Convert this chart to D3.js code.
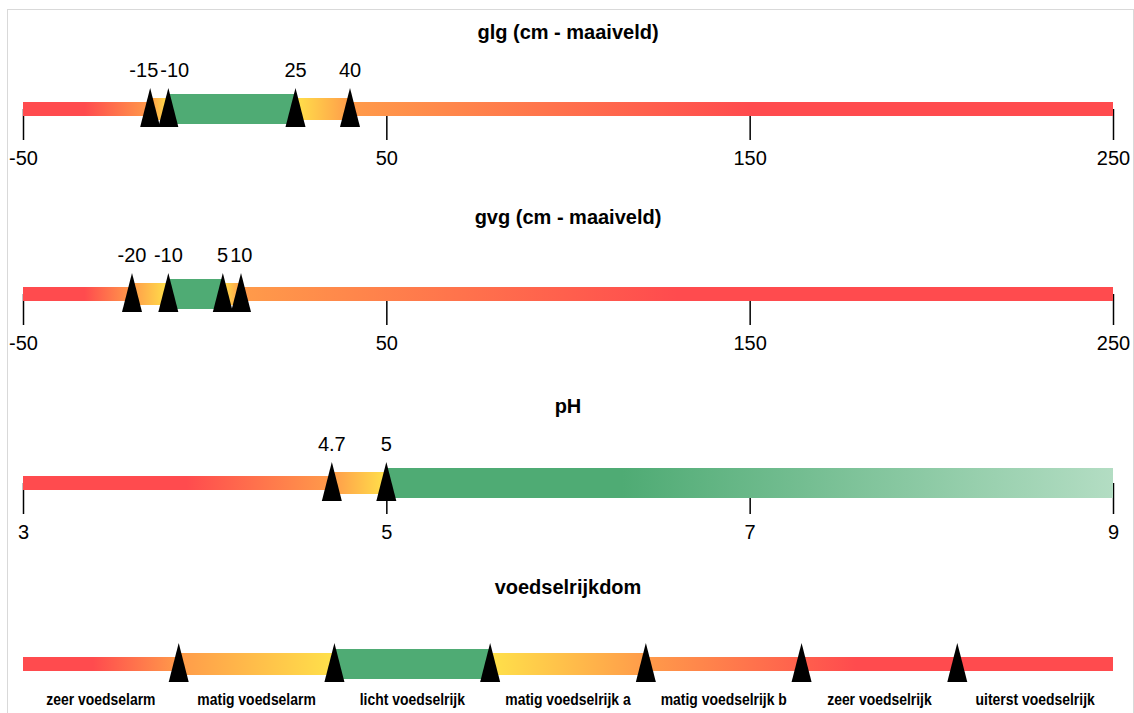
<!DOCTYPE html>
<html>
<head>
<meta charset="utf-8">
<script src="https://cdn.jsdelivr.net/npm/d3@7"></script>
<style>
    body { margin: 0; background: #fff; }
    svg { display: block; font-family: "Liberation Sans", Arial, sans-serif; }
</style>
</head>
<body>
<script>
// glg (cm - maaiveld)
const glgDomain = [-50, 250];
const glgTicks = [-50, 50, 150, 250];
const glgMarkers = [-15, -10, 25, 40];
// [from, to, class]  class: 0 = ongeschikt, 1 = matig, 2 = optimaal
const glgClasses = [[-50, -15, 0], [-15, -10, 1], [-10, 25, 2], [25, 40, 1], [40, 250, 0]];
const glgShades = [[-50, "bad"], [-33, "bad"], [-15, "poor"], [-10, "fair"], [25, "fair"], [40, "poor"], [150, "bad"], [250, "bad"]];
const glgOptimum = [[-10, "good"], [25, "good"]];

// gvg (cm - maaiveld)
const gvgDomain = [-50, 250];
const gvgTicks = [-50, 50, 150, 250];
const gvgMarkers = [-20, -10, 5, 10];
const gvgClasses = [[-50, -20, 0], [-20, -10, 1], [-10, 5, 2], [5, 10, 1], [10, 250, 0]];
const gvgShades = [[-50, "bad"], [-33, "bad"], [-20, "poor"], [-10, "fair"], [5, "fair"], [10, "poor"], [130, "bad"], [250, "bad"]];
const gvgOptimum = [[-10, "good"], [5, "good"]];

// pH
const phDomain = [3, 9];
const phTicks = [3, 5, 7, 9];
const phMarkers = [4.7, 5];
const phClasses = [[3, 4.7, 0], [4.7, 5, 1], [5, 9, 2]];
const phShades = [[3, "bad"], [3.9, "bad"], [4.7, "poor"], [5, "fair"]];
const phOptimum = [[5, "good"], [6.3, "good"], [9, "pale"]];

// voedselrijkdom
const voedselCategories = ["zeer voedselarm", "matig voedselarm", "licht voedselrijk", "matig voedselrijk a",
    "matig voedselrijk b", "zeer voedselrijk", "uiterst voedselrijk"];
const voedselMarkers = [1, 2, 3, 4, 5, 6];
const voedselClasses = [[0, 1, 0], [1, 2, 1], [2, 3, 2], [3, 4, 1], [4, 7, 0]];
const voedselShades = [[0, "bad"], [0.45, "bad"], [1, "poor"], [2, "fair"], [3, "fair"], [4, "poor"], [5.35, "bad"], [7, "bad"]];
const voedselOptimum = [[2, "good"], [3, "good"]];

let width = 1134, height = 713;
let left = 23, right = 1113;
let rowY = [109, 294, 483, 664];
let heights = [14, 22, 30];
let colors = { bad: "#ff4b4e", poor: "#ff9b4a", fair: "#ffe14a", good: "#4fab74", pale: "#b3ddc3" };

let charts = [
    { id: "glg", title: "glg (cm - maaiveld)", domain: glgDomain, ticks: glgTicks, markers: glgMarkers,
      classes: glgClasses, shades: glgShades, optimum: glgOptimum, labels: true },
    { id: "gvg", title: "gvg (cm - maaiveld)", domain: gvgDomain, ticks: gvgTicks, markers: gvgMarkers,
      classes: gvgClasses, shades: gvgShades, optimum: gvgOptimum, labels: true },
    { id: "ph", title: "pH", domain: phDomain, ticks: phTicks, markers: phMarkers,
      classes: phClasses, shades: phShades, optimum: phOptimum, labels: true },
    { id: "voedsel", title: "voedselrijkdom", domain: [0, voedselCategories.length], ticks: null,
      markers: voedselMarkers, classes: voedselClasses, shades: voedselShades, optimum: voedselOptimum,
      labels: false, categories: voedselCategories }
];

let svg = d3.select("body").append("svg")
    .attr("width", width)
    .attr("height", height);

// light frame round the chart
svg.append("rect")
    .attr("x", 7.5).attr("y", 9.5)
    .attr("width", 1126).attr("height", 730)
    .attr("fill", "none")
    .attr("stroke", "#d9d9d9");

let defs = svg.append("defs");

function addGradient(id, x, stops) {
    let x0 = x.range()[0], x1 = x.range()[1];
    let grad = defs.append("linearGradient")
        .attr("id", id)
        .attr("gradientUnits", "userSpaceOnUse")
        .attr("x1", x0).attr("x2", x1)
        .attr("y1", 0).attr("y2", 0);
    grad.selectAll("stop")
        .data(stops)
        .enter().append("stop")
        .attr("offset", d => (x(d[0]) - x0) / (x1 - x0))
        .attr("stop-color", d => colors[d[1]]);
}

charts.forEach((c, ci) => {
    let x = d3.scaleLinear().domain(c.domain).range([left, right]);
    let g = svg.append("g").attr("transform", "translate(0," + rowY[ci] + ")");

    addGradient("shade-" + c.id, x, c.shades);
    addGradient("opt-" + c.id, x, c.optimum);

    //title
    g.append("text")
        .attr("x", (left + right) / 2)
        .attr("y", -70)
        .attr("text-anchor", "middle")
        .style("font-size", "20px")
        .style("font-weight", "bold")
        .text(c.title);

    //axis, drawn first so the bar sits on top of the ticks
    if (c.ticks) {
        let axis = g.append("g")
            .call(d3.axisBottom(x)
                .tickValues(c.ticks)
                .tickSize(31)
                .tickPadding(11)
                .tickFormat(d => String(d)));
        axis.select(".domain").remove();
        axis.selectAll(".tick line").attr("stroke", "#000").attr("stroke-width", 1.5);
        axis.selectAll(".tick text")
            .attr("fill", "#000")
            .style("font-size", "20px")
            .style("font-family", "'Liberation Sans', Arial, sans-serif");
    }

    //the coloured bar
    g.append("g").selectAll("rect")
        .data(c.classes)
        .enter().append("rect")
        .attr("x", d => x(d[0]))
        .attr("width", d => x(d[1]) - x(d[0]))
        .attr("y", d => -heights[d[2]] / 2)
        .attr("height", d => heights[d[2]])
        .attr("fill", d => d[2] === 2 ? "url(#opt-" + c.id + ")" : "url(#shade-" + c.id + ")");

    //triangles on the class limits
    g.append("g").selectAll("path")
        .data(c.markers)
        .enter().append("path")
        .attr("d", d => "M" + (x(d) - 10) + ",18L" + x(d) + ",-21L" + (x(d) + 10) + ",18Z")
        .attr("fill", "#000");

    //value labels above the triangles, pushed apart where they overlap
    if (c.labels) {
        let lab = g.append("g").selectAll("text")
            .data(c.markers)
            .enter().append("text")
            .attr("x", d => x(d))
            .attr("y", -32)
            .attr("text-anchor", "middle")
            .style("font-size", "20px")
            .text(d => String(d));
        let items = [];
        lab.each(function(d) { items.push({ node: this, cx: x(d), w: this.getComputedTextLength() }); });
        items.sort((a, b) => a.cx - b.cx);
        for (let i = 1; i < items.length; i++) {
            let a = items[i - 1], b = items[i];
            let overlap = a.w / 2 + b.w / 2 + 2 - (b.cx - a.cx);
            if (overlap > 0) {
                a.cx -= overlap / 2;
                b.cx += overlap / 2;
            }
        }
        items.forEach(it => d3.select(it.node).attr("x", it.cx));
    }

    //category names under the bar
    if (c.categories) {
        g.append("g").selectAll("text")
            .data(c.categories)
            .enter().append("text")
            .attr("transform", (d, i) => "translate(" + x(i + 0.5) + ",41) scale(0.82,1)")
            .attr("text-anchor", "middle")
            .style("font-size", "17px")
            .style("font-weight", "bold")
            .text(d => d);
    }
});
</script>
</body>
</html>
